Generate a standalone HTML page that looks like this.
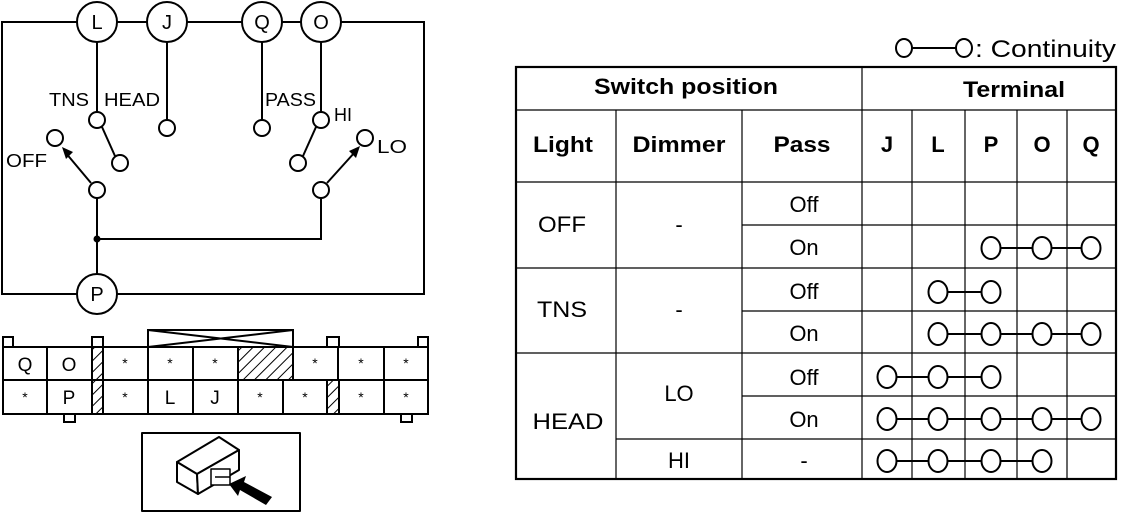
<!DOCTYPE html>
<html><head><meta charset="utf-8"><style>
html,body{margin:0;padding:0;background:#fff;}
svg{display:block;font-family:"Liberation Sans",sans-serif;}
</style></head><body>
<svg width="1126" height="514" viewBox="0 0 1126 514" xmlns="http://www.w3.org/2000/svg">
<g stroke="#000" stroke-width="2" fill="none">
<polyline points="77,22 2,22 2,294 77,294"/>
<line x1="117" y1="22" x2="147" y2="22"/>
<line x1="187" y1="22" x2="242" y2="22"/>
<line x1="282" y1="22" x2="301" y2="22"/>
<polyline points="341,22 424,22 424,294 117,294"/>
<line x1="97" y1="42" x2="97" y2="112"/>
<line x1="167" y1="42" x2="167" y2="120"/>
<line x1="262" y1="42" x2="262" y2="120"/>
<line x1="321" y1="42" x2="321" y2="112"/>
<line x1="102" y1="127" x2="115" y2="156"/>
<line x1="316" y1="127" x2="303" y2="156"/>
<line x1="91" y1="183" x2="65" y2="152"/>
<line x1="327" y1="183" x2="355" y2="152"/>
<line x1="97" y1="198" x2="97" y2="274"/>
<polyline points="97,239 321,239 321,198"/>
</g>
<polygon points="62,147 73,152 66,159" fill="#000"/>
<polygon points="360,146 349,151 356,158" fill="#000"/>
<circle cx="97" cy="239" r="3.5" fill="#000"/>
<g stroke="#000" stroke-width="2" fill="#fff">
<circle cx="97" cy="22" r="20"/><circle cx="167" cy="22" r="20"/>
<circle cx="262" cy="22" r="20"/><circle cx="321" cy="22" r="20"/>
<circle cx="97" cy="294" r="20"/>
<circle cx="97" cy="120" r="8"/><circle cx="120" cy="163" r="8"/>
<circle cx="167" cy="128" r="8"/><circle cx="262" cy="128" r="8"/>
<circle cx="321" cy="120" r="8"/><circle cx="298" cy="163" r="8"/>
<circle cx="55" cy="138" r="8"/><circle cx="365" cy="138" r="8"/>
<circle cx="97" cy="190" r="8"/><circle cx="321" cy="190" r="8"/>
</g>
<g font-size="20" text-anchor="middle">
<text x="97" y="29">L</text><text x="167" y="29">J</text>
<text x="262" y="29">Q</text><text x="321" y="29">O</text>
<text x="97" y="301">P</text>
</g>
<g font-size="18" lengthAdjust="spacingAndGlyphs">
<text x="49" y="106" textLength="40" lengthAdjust="spacingAndGlyphs">TNS</text><text x="104" y="106" textLength="56" lengthAdjust="spacingAndGlyphs">HEAD</text>
<text x="265" y="106" textLength="51" lengthAdjust="spacingAndGlyphs">PASS</text><text x="334" y="121">HI</text>
<text x="6" y="167" textLength="41" lengthAdjust="spacingAndGlyphs">OFF</text><text x="377" y="153" textLength="30" lengthAdjust="spacingAndGlyphs">LO</text>
</g>
<g stroke="#000" stroke-width="2" fill="none">
<rect x="148" y="330" width="145" height="17"/>
<polyline points="148,330 293,347"/><polyline points="148,347 293,330"/>
<rect x="3" y="337" width="10" height="10"/><rect x="418" y="337" width="10" height="10"/>
<rect x="327" y="337" width="12" height="10"/><rect x="92" y="337" width="11" height="10"/>
<rect x="64" y="414" width="11" height="8"/><rect x="401" y="414" width="11" height="8"/>
<rect x="3" y="347" width="425" height="67" fill="#fff"/>
<line x1="3" y1="380" x2="428" y2="380"/>
<line x1="47" y1="347" x2="47" y2="414"/>
<line x1="92" y1="347" x2="92" y2="414"/>
<line x1="103" y1="347" x2="103" y2="414"/>
<line x1="148" y1="347" x2="148" y2="414"/>
<line x1="193" y1="347" x2="193" y2="414"/>
<line x1="238" y1="347" x2="238" y2="414"/>
<line x1="293" y1="347" x2="293" y2="380"/>
<line x1="338" y1="347" x2="338" y2="380"/>
<line x1="384" y1="347" x2="384" y2="414"/>
<line x1="283" y1="380" x2="283" y2="414"/>
<line x1="327" y1="380" x2="327" y2="414"/>
<line x1="339" y1="380" x2="339" y2="414"/>
</g>
<defs><pattern id="h" width="8" height="8" patternUnits="userSpaceOnUse" patternTransform="rotate(45)"><line x1="0" y1="0" x2="0" y2="8" stroke="#000" stroke-width="2"/></pattern></defs>
<g fill="url(#h)" stroke="#000" stroke-width="1.5">
<rect x="92" y="347" width="11" height="67"/>
<rect x="238" y="347" width="55" height="33"/>
<rect x="327" y="380" width="12" height="34"/>
</g>
<g text-anchor="middle" font-size="19">
<text x="25" y="371">Q</text><text x="69" y="371">O</text>
<text x="69" y="404">P</text><text x="170" y="404">L</text><text x="215" y="404">J</text>
</g>
<g text-anchor="middle" font-size="14">
<text x="125" y="368">*</text><text x="170" y="368">*</text><text x="215" y="368">*</text>
<text x="315" y="368">*</text><text x="361" y="368">*</text><text x="406" y="368">*</text>
<text x="25" y="402">*</text><text x="125" y="402">*</text><text x="260" y="402">*</text>
<text x="305" y="402">*</text><text x="361" y="402">*</text><text x="406" y="402">*</text>
</g>
<g stroke="#000" stroke-width="2" fill="#fff" stroke-linejoin="round">
<rect x="142" y="433" width="158" height="78" fill="none"/>
<polygon points="177,462 219,437 239,450 197,474"/>
<polygon points="177,462 197,474 198,494 177,482"/>
<polygon points="197,474 239,450 239,470 198,494"/>
<rect x="211" y="469" width="19" height="16" stroke-width="1.5"/>
<line x1="215" y1="477" x2="230" y2="477" stroke-width="1.5"/>
</g>
<polygon points="229,484 246,476 244,482 272,497 266,505 240,490 238,496" fill="#000"/>
<g stroke="#000" stroke-width="2" fill="none">
<ellipse cx="904" cy="48" rx="8" ry="9"/><ellipse cx="964" cy="48" rx="8" ry="9"/>
<line x1="912" y1="48" x2="956" y2="48"/>
</g>
<text x="975" y="57" font-size="24" textLength="141" lengthAdjust="spacingAndGlyphs">: Continuity</text>
<g stroke="#000" stroke-width="1.2" fill="none">
<line x1="516" y1="110" x2="1116" y2="110"/>
<line x1="516" y1="182" x2="1116" y2="182"/>
<line x1="742" y1="225" x2="1116" y2="225"/>
<line x1="516" y1="268" x2="1116" y2="268"/>
<line x1="742" y1="311" x2="1116" y2="311"/>
<line x1="516" y1="353" x2="1116" y2="353"/>
<line x1="742" y1="396" x2="1116" y2="396"/>
<line x1="616" y1="439" x2="1116" y2="439"/>
<line x1="616" y1="110" x2="616" y2="479"/>
<line x1="742" y1="110" x2="742" y2="479"/>
<line x1="862" y1="67" x2="862" y2="479"/>
<line x1="912" y1="110" x2="912" y2="479"/>
<line x1="965" y1="110" x2="965" y2="479"/>
<line x1="1017" y1="110" x2="1017" y2="479"/>
<line x1="1067" y1="110" x2="1067" y2="479"/>
<rect x="516" y="67" width="600" height="412" stroke-width="2.2"/>
</g>
<g font-size="22" font-weight="bold" text-anchor="middle">
<text x="686" y="94" textLength="184" lengthAdjust="spacingAndGlyphs">Switch position</text><text x="1014" y="97" textLength="102" lengthAdjust="spacingAndGlyphs">Terminal</text>
<text x="563" y="152" textLength="60" lengthAdjust="spacingAndGlyphs">Light</text><text x="679" y="152" textLength="93" lengthAdjust="spacingAndGlyphs">Dimmer</text><text x="802" y="152" textLength="57" lengthAdjust="spacingAndGlyphs">Pass</text>
<text x="887" y="152">J</text><text x="938" y="152">L</text><text x="991" y="152">P</text>
<text x="1042" y="152">O</text><text x="1091" y="152">Q</text>
</g>
<g font-size="22" text-anchor="middle">
<text x="562" y="232" textLength="48" lengthAdjust="spacingAndGlyphs">OFF</text><text x="679" y="232">-</text>
<text x="804" y="212">Off</text><text x="804" y="255">On</text>
<text x="562" y="317" textLength="50" lengthAdjust="spacingAndGlyphs">TNS</text><text x="679" y="317">-</text>
<text x="804" y="299">Off</text><text x="804" y="341">On</text>
<text x="568" y="429" textLength="71" lengthAdjust="spacingAndGlyphs">HEAD</text><text x="679" y="401">LO</text><text x="679" y="468">HI</text>
<text x="804" y="385">Off</text><text x="804" y="427">On</text><text x="804" y="468">-</text>
</g>
<g stroke="#000" stroke-width="2" fill="#fff">
<line x1="991" y1="248" x2="1091" y2="248"/>
<ellipse cx="991" cy="248" rx="9.5" ry="11"/><ellipse cx="1042" cy="248" rx="9.5" ry="11"/><ellipse cx="1091" cy="248" rx="9.5" ry="11"/>
<line x1="938" y1="292" x2="991" y2="292"/>
<ellipse cx="938" cy="292" rx="9.5" ry="11"/><ellipse cx="991" cy="292" rx="9.5" ry="11"/>
<line x1="938" y1="334" x2="1091" y2="334"/>
<ellipse cx="938" cy="334" rx="9.5" ry="11"/><ellipse cx="991" cy="334" rx="9.5" ry="11"/><ellipse cx="1042" cy="334" rx="9.5" ry="11"/><ellipse cx="1091" cy="334" rx="9.5" ry="11"/>
<line x1="887" y1="377" x2="991" y2="377"/>
<ellipse cx="887" cy="377" rx="9.5" ry="11"/><ellipse cx="938" cy="377" rx="9.5" ry="11"/><ellipse cx="991" cy="377" rx="9.5" ry="11"/>
<line x1="887" y1="419" x2="1091" y2="419"/>
<ellipse cx="887" cy="419" rx="9.5" ry="11"/><ellipse cx="938" cy="419" rx="9.5" ry="11"/><ellipse cx="991" cy="419" rx="9.5" ry="11"/><ellipse cx="1042" cy="419" rx="9.5" ry="11"/><ellipse cx="1091" cy="419" rx="9.5" ry="11"/>
<line x1="887" y1="461" x2="1042" y2="461"/>
<ellipse cx="887" cy="461" rx="9.5" ry="11"/><ellipse cx="938" cy="461" rx="9.5" ry="11"/><ellipse cx="991" cy="461" rx="9.5" ry="11"/><ellipse cx="1042" cy="461" rx="9.5" ry="11"/>
</g>
</svg>
</body></html>
